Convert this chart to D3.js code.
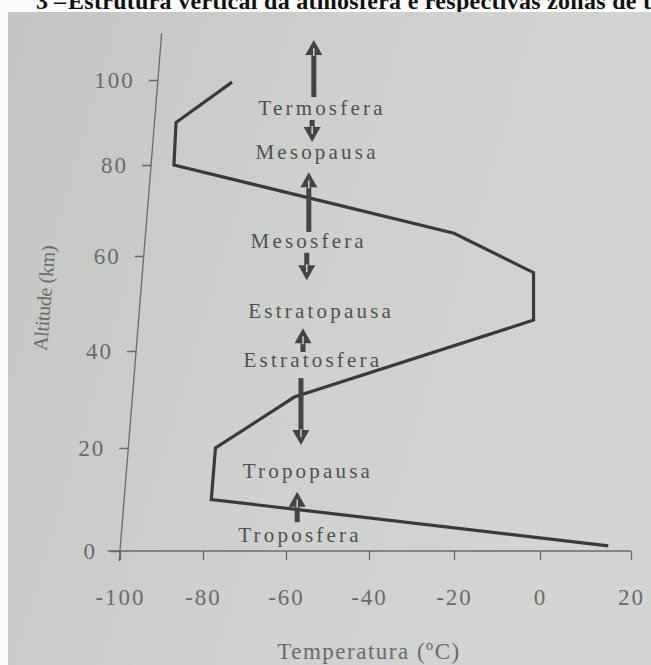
<!DOCTYPE html>
<html><head><meta charset="utf-8">
<script src="https://cdn.jsdelivr.net/npm/d3@7"></script>
<style>body{margin:0;background:#fff;overflow:hidden}</style>
</head><body><svg id="c" width="651" height="665"></svg>
<script>
// ---- data ----
const xTicks = [-100, -80, -60, -40, -20, 0, 20];
const yTicks = [0, 20, 40, 60, 80, 100];
const temperature = [15, -78, -77, -58, -1.5, -1.5, -20, -87, -86.5, -73];
const altitude    = [1, 10, 20, 30.5, 46.5, 56.5, 65, 80, 90, 99.5];
const layerNames = ["Termosfera", "Mesopausa", "Mesosfera", "Estratopausa", "Estratosfera", "Tropopausa", "Troposfera"];
const layerTemp  = [-51.8, -53, -55, -52, -54, -55.2, -57.1];
const layerAlt   = [91.8, 81.4, 61.8, 46.9, 36.7, 14.2, 1.7];
const arrowTemp = [-53.3, -53.7, -54.5, -55, -55.9, -56.4, -57.3];
const arrowFrom = [96, 90.6, 65.3, 60.7, 39.8, 34.4, 5.6];
const arrowTo   = [109.4, 85.4, 78.4, 54.9, 44.8, 20.6, 11.5];
const xTitle = "Temperatura (ºC)";
const yTitle = "Altitude (km)";
const caption = "Estrutura vertical da atmosfera e respectivas zonas de t";

// ---- setup ----
const svg = d3.select("#c");
const W = 651, H = 665;
const serif = "'Liberation Serif', 'DejaVu Serif', serif";

// caption strip (cut off at the top edge, as in the photo)
svg.append("rect").attr("width", W).attr("height", H).attr("fill", "#fbfbfb");
svg.append("text").attr("x", 36).attr("y", 9).attr("font-family", serif).attr("font-weight", "bold")
  .attr("font-size", 24).attr("fill", "#111").text("3 –");
svg.append("text").attr("x", 68).attr("y", 9).attr("font-family", serif).attr("font-weight", "bold")
  .attr("font-size", 24).attr("fill", "#111").attr("textLength", 583).attr("lengthAdjust", "spacing").text(caption);

// paper background
const defs = svg.append("defs");
const g1 = defs.append("linearGradient").attr("id", "paper").attr("x1", "0").attr("x2", "1").attr("y1", "0").attr("y2", "0.3");
g1.append("stop").attr("offset", "0").attr("stop-color", "#c3c6c3");
g1.append("stop").attr("offset", "0.5").attr("stop-color", "#cdd0cd");
g1.append("stop").attr("offset", "1").attr("stop-color", "#d3d5d2");
svg.append("rect").attr("x", 8).attr("y", 12).attr("width", W - 8).attr("height", H - 12).attr("fill", "url(#paper)");

// scales (piecewise to follow the photo's perspective)
const x = d3.scaleLinear().domain(xTicks).range([120, 203, 286, 369, 454, 540, 631]);
const y = d3.scaleLinear().domain(yTicks).range([551, 448, 351, 256, 165, 80]);

const axisColor = "#6a6a6a";
const tickColor = "#6a6a6a";

// x axis
const gx = svg.append("g").attr("transform", `translate(0,${y(0)})`)
  .call(d3.axisBottom(x).tickValues(xTicks).tickFormat(d => String(d)).tickSize(9).tickPadding(29).tickSizeOuter(0));
gx.select(".domain").remove();
gx.append("line").attr("x1", x(-103)).attr("x2", x(20)).attr("y1", 0).attr("y2", 0)
  .attr("stroke", axisColor).attr("stroke-width", 1.3);
gx.selectAll(".tick line").attr("stroke", axisColor).attr("stroke-width", 1.3);
gx.selectAll(".tick text").attr("font-family", serif).attr("font-size", 23)
  .attr("letter-spacing", 2).attr("fill", tickColor);

// y axis (sheared like in the photo)
const skew = -4.6;
const ox = x(-100), oy = y(0);
const gy = svg.append("g").attr("transform", `translate(${ox},${oy}) skewX(${skew}) translate(${-ox},${-oy})`);
const gya = gy.append("g").attr("transform", `translate(${ox},0)`)
  .call(d3.axisLeft(y).tickValues(yTicks).tickFormat(d => String(d)).tickSize(9).tickPadding(14).tickSizeOuter(0));
gya.select(".domain").remove();
gya.append("line").attr("x1", 0).attr("x2", 0).attr("y1", y(-2)).attr("y2", y(111))
  .attr("stroke", axisColor).attr("stroke-width", 1.3);
gya.selectAll(".tick line").attr("stroke", axisColor).attr("stroke-width", 1.3);
gya.selectAll(".tick text").attr("font-family", serif).attr("font-size", 23)
  .attr("letter-spacing", 2).attr("fill", tickColor).attr("transform", `skewX(${-skew})`);

// axis titles
svg.append("text").attr("x", x(-40)).attr("y", 659).attr("text-anchor", "middle")
  .attr("font-family", serif).attr("font-size", 23).attr("letter-spacing", 1.5)
  .attr("fill", tickColor).text(xTitle);
svg.append("text").attr("transform", `translate(51,${y(51)}) rotate(-85.5)`).attr("text-anchor", "middle")
  .attr("font-family", serif).attr("font-size", 20).attr("letter-spacing", -0.3)
  .attr("fill", tickColor).text(yTitle);

// temperature profile
const pts = temperature.map((t, i) => [t, altitude[i]]);
svg.append("path").datum(pts)
  .attr("d", d3.line().x(d => x(d[0])).y(d => y(d[1])))
  .attr("fill", "none").attr("stroke", "#3a3a3a").attr("stroke-width", 3.2)
  .attr("stroke-linejoin", "miter");

// layer labels
svg.append("g").selectAll("text").data(layerNames).join("text")
  .attr("x", (d, i) => x(layerTemp[i]) + 2).attr("y", (d, i) => y(layerAlt[i]))
  .attr("text-anchor", "middle").attr("font-family", serif).attr("font-size", 21)
  .attr("letter-spacing", 3.2).attr("fill", "#505050").text(d => d);

// arrows
const arrowColor = "#444";
const ga = svg.append("g");
arrowTemp.forEach((t, i) => {
  const ax = x(t), y1 = y(arrowFrom[i]), y2 = y(arrowTo[i]);
  const dir = y2 < y1 ? -1 : 1;
  const headL = 15, headW = 8.5;
  const base = y2 - dir * headL;
  ga.append("line").attr("x1", ax).attr("x2", ax).attr("y1", y1).attr("y2", base)
    .attr("stroke", arrowColor).attr("stroke-width", 5);
  ga.append("path").attr("d", `M${ax - headW},${base} L${ax + headW},${base} L${ax},${y2} Z`)
    .attr("fill", arrowColor);
  ga.append("line").attr("x1", ax).attr("x2", ax).attr("y1", base - dir * 1).attr("y2", base + dir * 7)
    .attr("stroke", "#d8dad8").attr("stroke-width", 1.4);
});
</script></body></html>
